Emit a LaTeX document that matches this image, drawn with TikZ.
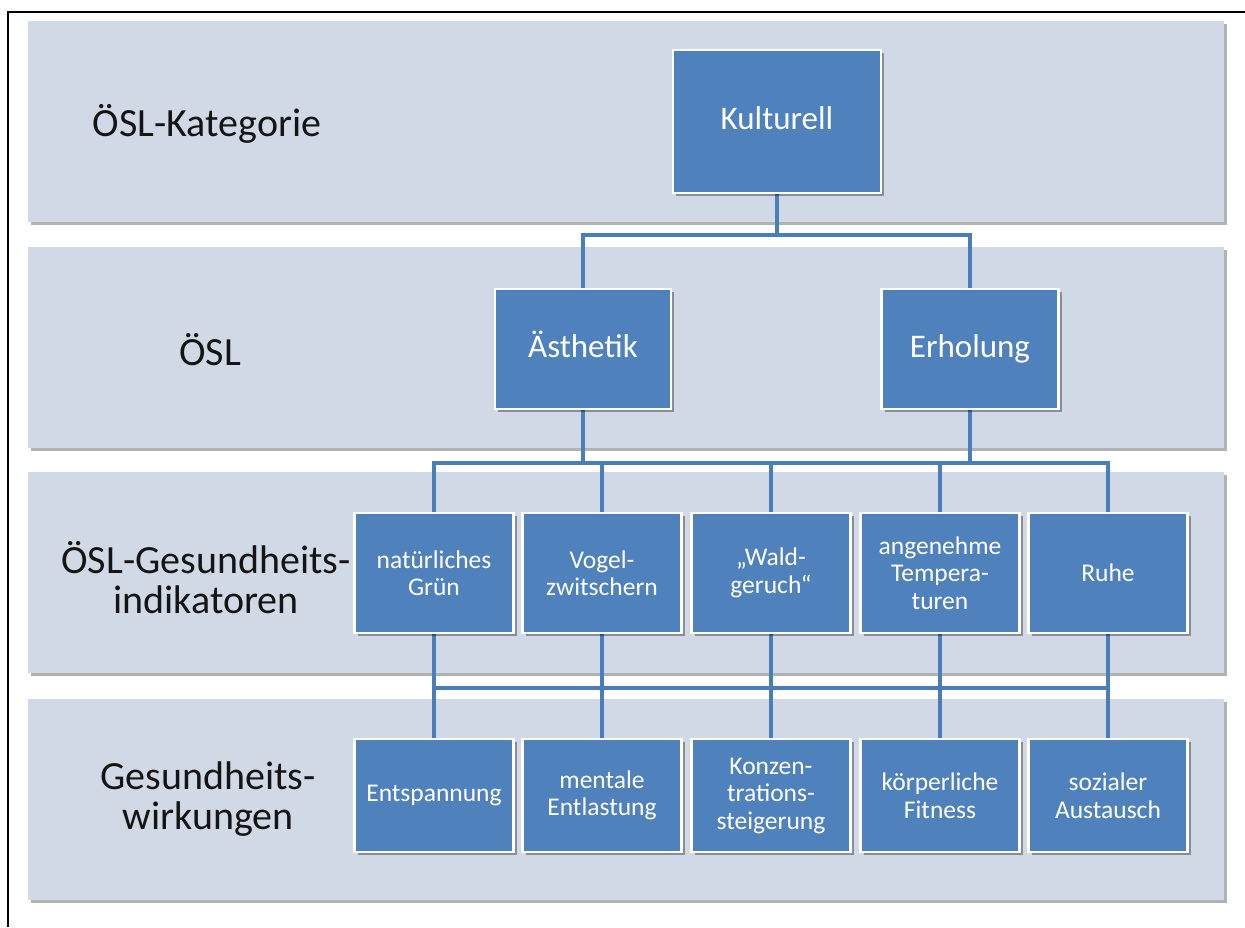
\documentclass[tikz,border=0pt]{standalone}
\usepackage{fontspec}
\setmainfont{Carlito}
\usetikzlibrary{shadows}
\definecolor{bandfill}{RGB}{209,217,231}
\definecolor{boxblue}{RGB}{79,129,189}
\definecolor{linkblue}{RGB}{74,126,187}
\definecolor{labeltext}{RGB}{20,20,20}
\pgfdeclarelayer{bg}
\pgfdeclarelayer{lines}
\pgfsetlayers{bg,lines,main}
\begin{document}
\begin{tikzpicture}[x=1pt,y=-1pt,
  band/.style={fill=bandfill, draw=none, inner sep=0pt, anchor=north west,
    minimum width=1196pt, minimum height=201pt,
    drop shadow={shadow xshift=3pt, shadow yshift=-3pt, fill=black, opacity=0.3}},
  box/.style={fill=boxblue, draw=white, line width=2.5pt, text=white, align=center,
    inner sep=2pt,
    drop shadow={shadow xshift=3pt, shadow yshift=-3pt, fill=black, opacity=0.35}},
  bigbox/.style={box, font=\fontsize{33}{36}\selectfont, text height=23pt, text depth=7pt},
  indbox/.style={box, minimum width=159pt, minimum height=120pt,
    font=\fontsize{25.5}{27.5}\selectfont},
  effbox/.style={box, minimum width=159pt, minimum height=113pt,
    font=\fontsize{25.5}{27.5}\selectfont},
  rowlabel/.style={text=labeltext, align=center, font=\fontsize{40}{40}\selectfont},
  conn/.style={draw=linkblue, line width=3.5pt}
]
\useasboundingbox (0,0) rectangle (1245,927);

\begin{pgfonlayer}{bg}
\fill[white] (0,0) rectangle (1245,927);
\node[band] (b1) at (28,21) {};
\node[band] (b2) at (28,247) {};
\node[band] (b3) at (28,472) {};
\node[band] (b4) at (28,699) {};
\end{pgfonlayer}

\draw[black, line width=2.2pt] (8,927) -- (8,12) -- (1245,12);

% row labels
\node[rowlabel] (l1) at (207,124) {ÖSL-Kategorie};
\node[rowlabel] (l2) at (210,350) {ÖSL};
\node[rowlabel] (l3) at (206,578) {ÖSL-Gesundheits-\\indikatoren};
\node[rowlabel] (l4) at (208,799) {Gesundheits-\\wirkungen};

% boxes
\node[bigbox, minimum width=208pt, minimum height=143pt] (kult) at (777,121.5) {Kulturell};
\node[bigbox, minimum width=176pt, minimum height=120pt] (aest) at (583,349) {Ästhetik};
\node[bigbox, minimum width=177pt, minimum height=120pt] (erh) at (970,349) {Erholung};

\node[indbox] (g1) at (434,573) {natürliches\\Grün};
\node[indbox] (g2) at (602,573) {Vogel-\\zwitschern};
\node[indbox] (g3) at (771,573) {„Wald-\\geruch“};
\node[indbox] (g4) at (940,573) {angenehme\\Tempera-\\turen};
\node[indbox] (g5) at (1108,573) {Ruhe};

\node[effbox] (w1) at (434,795.5) {Entspannung};
\node[effbox] (w2) at (602,795.5) {mentale\\Entlastung};
\node[effbox] (w3) at (771,795.5) {Konzen-\\trations-\\steigerung};
\node[effbox] (w4) at (940,795.5) {körperliche\\Fitness};
\node[effbox] (w5) at (1108,795.5) {sozialer\\Austausch};

\coordinate (bus1) at (0,235);
\coordinate (bus2) at (0,463);
\coordinate (bus3) at (0,688);

\begin{pgfonlayer}{lines}
\draw[conn] (kult.south) -- (kult.south |- bus1);
\draw[conn] (aest.north) -- (aest.north |- bus1) -- (erh.north |- bus1) -- (erh.north);
\draw[conn] (aest.south) -- (aest.south |- bus2);
\draw[conn] (erh.south) -- (erh.south |- bus2);
\draw[conn] (g1.north) -- (g1.north |- bus2) -- (g5.north |- bus2) -- (g5.north);
\foreach \i in {2,3,4} {\draw[conn] (g\i.north) -- (g\i.north |- bus2);}
\foreach \i in {1,...,5} {\draw[conn] (g\i.south) -- (w\i.north);}
\draw[conn] (g1.south |- bus3) -- (g5.south |- bus3);
\end{pgfonlayer}
\end{tikzpicture}
\end{document}
